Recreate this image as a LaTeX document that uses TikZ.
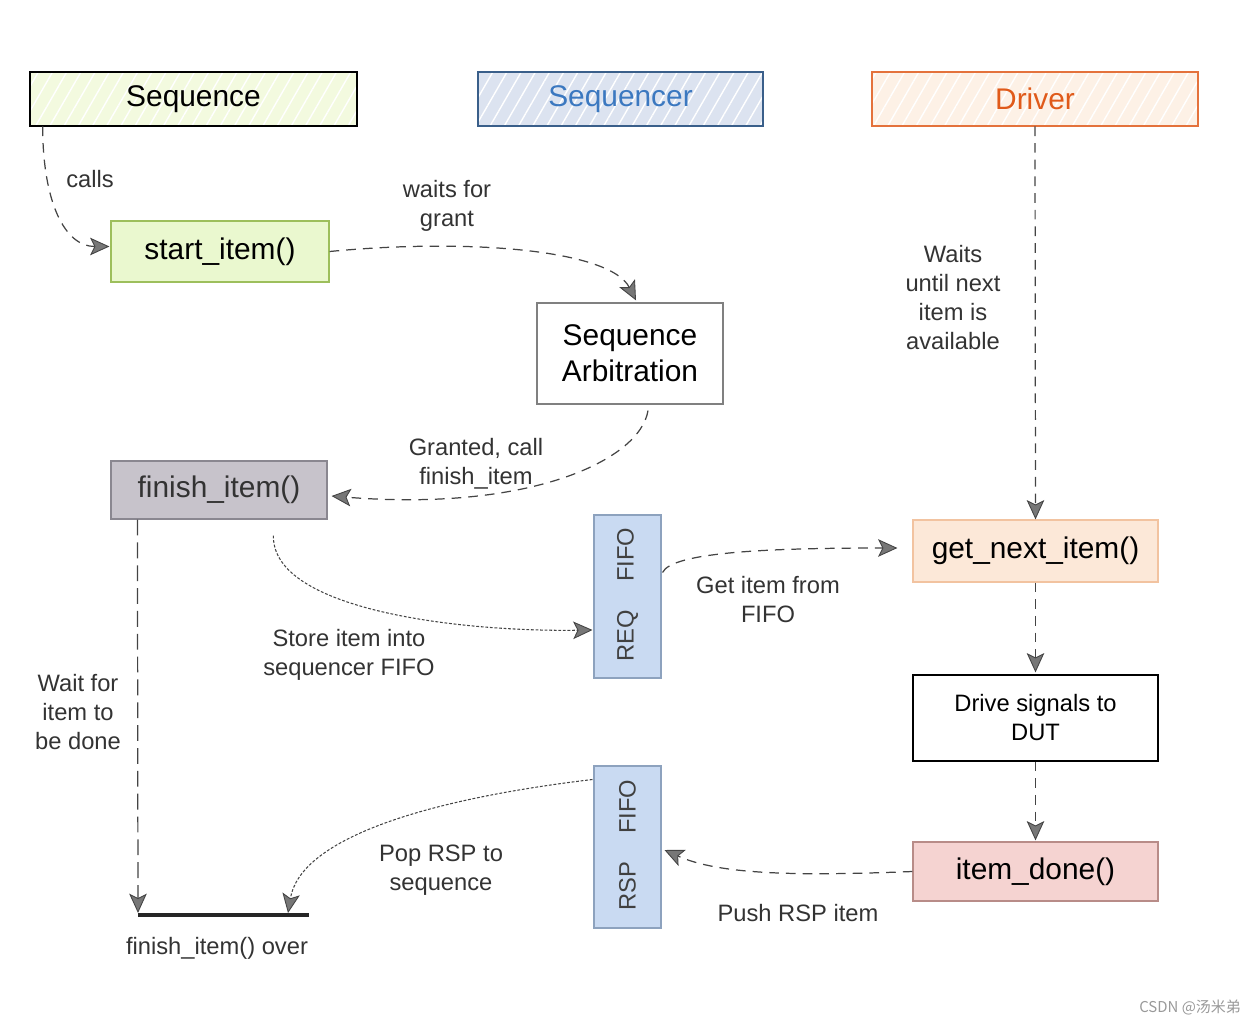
\documentclass[tikz,border=0pt]{standalone}
\usepackage{fontspec}
\setmainfont{Liberation Sans}
\newfontfamily\cjkfont{Noto Sans CJK SC}
\usetikzlibrary{arrows.meta,calc,patterns.meta}
\definecolor{seqfill}{HTML}{F3FADF}
\definecolor{sqrfill}{HTML}{DCE3F0}
\definecolor{sqrline}{HTML}{3A5F8A}
\definecolor{sqrtext}{HTML}{3B78C0}
\definecolor{drvfill}{HTML}{FDF1E6}
\definecolor{drvline}{HTML}{E4723C}
\definecolor{drvtext}{HTML}{E05A1A}
\definecolor{startfill}{HTML}{EAF8CF}
\definecolor{startline}{HTML}{9DBF5C}
\definecolor{finfill}{HTML}{C7C3CB}
\definecolor{finline}{HTML}{8A8790}
\definecolor{fifofill}{HTML}{C9DAF2}
\definecolor{fifoline}{HTML}{8DA2BE}
\definecolor{getfill}{HTML}{FCE8D8}
\definecolor{getline}{HTML}{F2C3A0}
\definecolor{donefill}{HTML}{F5D3D1}
\definecolor{doneline}{HTML}{B88C88}
\definecolor{lbl}{HTML}{333333}
\definecolor{conn}{HTML}{444444}
\definecolor{tipfill}{HTML}{777777}
\begin{document}
\begin{tikzpicture}[x=0.02cm,y=-0.02cm,
  big/.style={font=\fontsize{17}{20.5}\selectfont, inner sep=0pt, align=center},
  head/.style n args={2}{big, minimum height=1.08cm, fill=#1,
    postaction={pattern={Lines[angle=60,distance=7pt,line width=0.8pt]}, pattern color=white},
    postaction={draw=#2, line width=0.9pt}},
  fnbox/.style={big, draw, line width=0.7pt},
  fifo/.style={draw=fifoline, fill=fifofill, line width=0.6pt, minimum width=1.34cm, inner sep=0pt},
  fifotext/.style={rotate=90, font=\fontsize{13.5}{16}\selectfont, text=black!75},
  label/.style={font=\fontsize{13.5}{16.5}\selectfont, text=lbl, align=center},
  tip/.style={-{Stealth[length=11pt,width=10pt,inset=2.5pt,fill=tipfill,line width=0.5pt,sep=0pt]}},
  flow/.style={draw=conn, line width=0.7pt, dash pattern=on 5.5pt off 4pt, tip},
  dots/.style={draw=conn, line width=0.6pt, dash pattern=on 1.6pt off 1pt, tip}
]
\useasboundingbox (0,0) rectangle (1254,1024);

% headers
\node[head={seqfill}{black}, minimum width=6.54cm] (seq) at (193.5,99) {Sequence};
\node[head={sqrfill}{sqrline}, text=sqrtext, minimum width=5.7cm] (sqr) at (620.5,99) {Sequencer};
\node[head={drvfill}{drvline}, text=drvtext, minimum width=6.52cm] (drv) at (1035,99) {Driver};

% function boxes
\node[fnbox, fill=startfill, draw=startline, minimum width=4.36cm, minimum height=1.22cm] (start) at (220,251.5) {start\_item()};
\node[fnbox, fill=white, draw=gray, minimum width=3.72cm, minimum height=2.02cm] (arb) at (630,353.5) {Sequence\\Arbitration};
\node[fnbox, fill=finfill, draw=finline, text=black!80, minimum width=4.32cm, minimum height=1.16cm] (finish) at (219,490) {finish\_item()};
\node[fnbox, fill=getfill, draw=getline, minimum width=4.9cm, minimum height=1.24cm] (get) at (1035.5,551) {get\_next\_item()};
\node[fnbox, fill=white, draw=black, font=\fontsize{13.5}{16.5}\selectfont, minimum width=4.9cm, minimum height=1.72cm] (drive) at (1035.5,718) {Drive signals to\\DUT};
\node[fnbox, fill=donefill, draw=doneline, minimum width=4.9cm, minimum height=1.18cm] (done) at (1035.5,871.5) {item\_done()};

% FIFOs
\node[fifo, minimum height=3.26cm] (req) at (627.5,596.5) {};
\node[fifotext] (reqt) at ($(req.center)+(0,-2)$) {REQ\hspace{16pt}FIFO};
\node[fifo, minimum height=3.24cm] (rsp) at (627.5,847) {};
\node[fifotext] (rspt) at ($(rsp.center)+(0,-2)$) {RSP\hspace{16pt}FIFO};

% finish_item over bar
\coordinate (ovL) at (138,915);
\coordinate (ovR) at (309,915);
\draw[line width=2.4pt, black!85] (ovL) -- (ovR);

% connectors
\draw[flow] ($(seq.south west)+(13,0)$) .. controls +(0,75) and +(-45,0) .. ($(start.west)+(-1,-5)$);
\draw[flow] (start.east) .. controls (470,238) and (610,250) .. ($(arb.north)+(6,-2)$);
\draw[flow] ($(arb.south)+(18,6)$) .. controls (640,460) and (530,512) .. ($(finish.east)+(4,6)$);
\draw[flow] (drv.south) -- (get.north);
\draw[flow, dash pattern=on 9pt off 4pt] ($(finish.south west)+(27,0)$) -- ($(ovL)+(0,-2)$);
\draw[dots] ($(finish.south west)+(163,16)$) .. controls (272,610) and (460,632) .. ($(req.west)+(-1,33.5)$);
\draw[flow] ($(req.east)+(1,-24)$) .. controls (672,552) and (770,548) .. ($(get.west)+(-15,-3)$);
\draw[flow] (get.south) -- ($(drive.north)+(0,-2)$);
\draw[flow] (drive.south) -- ($(done.north)+(0,-1)$);
\draw[flow] (done.west) .. controls (800,876) and (720,875) .. ($(rsp.east)+(3,3)$);
\draw[dots] ($(rsp.north west)+(-1,14)$) .. controls (420,800) and (300,840) .. ($(ovL)+(150,-2)$);

% labels
\node[label] (l1) at (90,179) {calls};
\node[label] (l2) at (447,206) {waits for\\grant};
\node[label] (l3) at (953,298) {Waits\\until next\\item is\\available};
\node[label] (l4) at (476,464) {Granted, call\\finish\_item};
\node[label] (l5) at (768,600) {Get item from\\FIFO};
\node[label] (l6) at (349,655) {Store item into\\sequencer FIFO};
\node[label] (l7) at (78,712) {Wait for\\item to\\be done};
\node[label] (l8) at (441,870) {Pop RSP to\\sequence};
\node[label] (l9) at (798,913) {Push RSP item};
\node[label] (l10) at (217,948) {finish\_item() over};
\node[font=\cjkfont\fontsize{8.5}{10}\selectfont, text=gray!80] (wm) at (1190,1007) {CSDN @汤米弟};
\end{tikzpicture}
\end{document}
